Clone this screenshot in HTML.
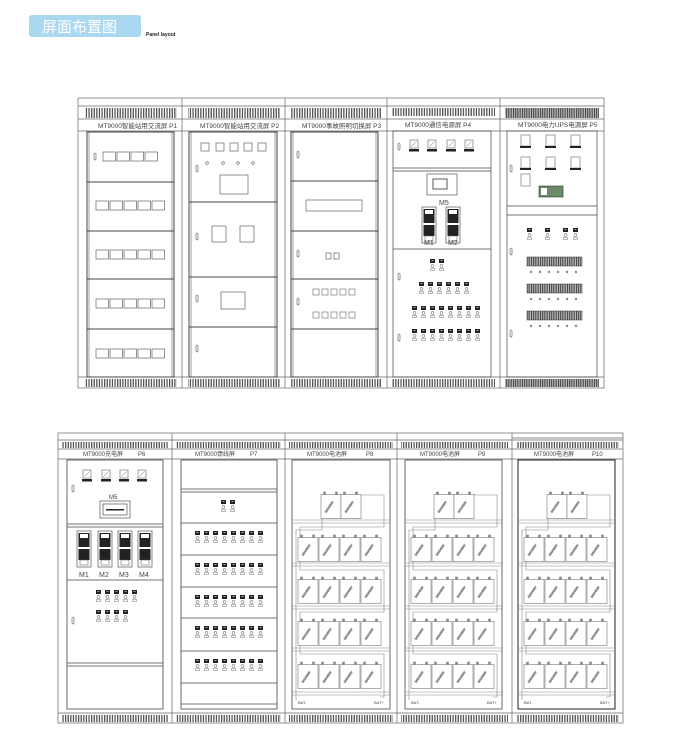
<!DOCTYPE html>
<html><head><meta charset="utf-8"><style>
html,body{margin:0;padding:0;background:#fff;width:687px;height:741px;overflow:hidden}
svg{display:block}
text{font-family:"Liberation Sans","Noto Sans CJK SC",sans-serif;fill:#444}
</style></head><body>
<svg width="687" height="741" viewBox="0 0 687 741" xmlns="http://www.w3.org/2000/svg">
<defs>
<pattern id="vent" width="2.6" height="20" patternUnits="userSpaceOnUse"><rect x="0" y="0" width="1.3" height="20" fill="#555"/></pattern>
<pattern id="ventd" width="1.8" height="20" patternUnits="userSpaceOnUse"><rect x="0" y="0" width="1.2" height="20" fill="#444"/></pattern>
<symbol id="brk" overflow="visible"><rect x="0" y="0" width="5" height="4" fill="#222"/><line x1="1.5" y1="1.5" x2="3.5" y2="1.5" stroke="#fff" stroke-width="0.6"/><circle cx="2.5" cy="7" r="1.4" fill="none" stroke="#777" stroke-width="0.6"/><rect x="0.5" y="9.5" width="4" height="2" fill="none" stroke="#777" stroke-width="0.5"/></symbol>
<symbol id="meter" overflow="visible"><rect x="0" y="0" width="8" height="8" fill="#fff" stroke="#666" stroke-width="0.6"/><line x1="1.5" y1="6.5" x2="6.5" y2="1.5" stroke="#666" stroke-width="0.5"/><rect x="-1" y="9" width="10" height="2.5" fill="#222"/></symbol>
<symbol id="box" overflow="visible"><rect x="0" y="0" width="12.5" height="9" fill="#fff" stroke="#666" stroke-width="0.7"/></symbol>
<symbol id="hdl" overflow="visible"><rect x="0" y="0" width="2" height="7" rx="1" fill="#fff" stroke="#555" stroke-width="0.6"/></symbol>
<symbol id="bat" overflow="visible"><rect x="0" y="2.5" width="20" height="24" fill="#fff" stroke="#777" stroke-width="0.6"/><rect x="2.5" y="0" width="2" height="2.5" fill="#888"/><rect x="14.5" y="0" width="2" height="2.5" fill="#888"/><text x="5" y="21" font-size="2.6" transform="rotate(-55 5 21)" style="fill:#aaa">100AH/12V</text></symbol>
<symbol id="mod" overflow="visible"><rect x="0" y="0" width="14" height="36" fill="#fff" stroke="#555" stroke-width="0.7"/><rect x="1.5" y="2" width="11" height="14" fill="#222"/><rect x="3" y="3" width="8" height="4" fill="#fff"/><rect x="1.5" y="18" width="11" height="11" fill="#222"/><rect x="3" y="29" width="8" height="5" fill="#fff" stroke="#555" stroke-width="0.5"/></symbol>
<g id="batp" stroke="#888" stroke-width="0.6" fill="none">
<line x1="292" y1="520" x2="390" y2="520"/><line x1="292" y1="523" x2="390" y2="523"/>
<line x1="292" y1="563" x2="390" y2="563"/><line x1="292" y1="566" x2="390" y2="566"/>
<line x1="292" y1="606" x2="390" y2="606"/><line x1="292" y1="609" x2="390" y2="609"/>
<line x1="292" y1="648" x2="390" y2="648"/><line x1="292" y1="651" x2="390" y2="651"/>
<line x1="292" y1="692" x2="390" y2="692"/><line x1="292" y1="695" x2="390" y2="695"/>
<polyline points="360,495 384,495 384,527 300,527 300,570 384,570 384,612 300,612 300,654 384,654 384,697 380,697"/>
<polyline points="324,495 322,495 322,530 296,530 296,700"/>
<use href="#bat" x="321" y="492"/><use href="#bat" x="341" y="492"/>
<use href="#bat" x="298" y="535"/><use href="#bat" x="319" y="535"/><use href="#bat" x="340" y="535"/><use href="#bat" x="361" y="535"/>
<use href="#bat" x="298" y="577"/><use href="#bat" x="319" y="577"/><use href="#bat" x="340" y="577"/><use href="#bat" x="361" y="577"/>
<use href="#bat" x="298" y="619"/><use href="#bat" x="319" y="619"/><use href="#bat" x="340" y="619"/><use href="#bat" x="361" y="619"/>
<use href="#bat" x="298" y="662"/><use href="#bat" x="319" y="662"/><use href="#bat" x="340" y="662"/><use href="#bat" x="361" y="662"/>
<text x="298" y="704" font-size="4" stroke="none">BAT-</text><text x="374" y="704" font-size="4" stroke="none">BAT+</text>
</g>
</defs>

<rect x="29" y="15" width="112" height="22" rx="3" fill="#a9d8f0"/>
<text x="42" y="32" font-size="15" style="fill:#fff">屏面布置图</text>
<text x="146" y="36" font-size="5" font-weight="bold" style="fill:#222">Panel layout</text>

<g stroke="#666" stroke-width="0.7" fill="none">
<rect x="78" y="98" width="526" height="290"/>
<line x1="78" y1="106" x2="604" y2="106"/>
<line x1="78" y1="119" x2="604" y2="119"/><line x1="78" y1="131" x2="604" y2="131"/>
<line x1="78" y1="377" x2="604" y2="377"/>
<line x1="182" y1="98" x2="182" y2="388"/><line x1="285" y1="98" x2="285" y2="388"/><line x1="387" y1="98" x2="387" y2="388"/><line x1="500" y1="98" x2="500" y2="388"/>
</g>
<g stroke="none">
<rect x="85" y="108" width="92" height="10" fill="url(#vent)"/>
<rect x="188" y="108" width="92" height="10" fill="url(#vent)"/>
<rect x="290" y="108" width="92" height="10" fill="url(#vent)"/>
<rect x="392" y="108" width="103" height="8" fill="url(#vent)"/>
<rect x="505" y="108" width="94" height="10" fill="url(#ventd)"/>
<rect x="85" y="379" width="92" height="8" fill="url(#vent)"/>
<rect x="188" y="379" width="92" height="8" fill="url(#vent)"/>
<rect x="290" y="379" width="92" height="8" fill="url(#vent)"/>
<rect x="392" y="379" width="103" height="8" fill="url(#vent)"/>
<rect x="505" y="379" width="94" height="8" fill="url(#ventd)"/>
</g>
<g font-size="6.5">
<text x="98" y="128">MT9000智能站用交流屏  P1</text>
<text x="200" y="128">MT9000智能站用交流屏  P2</text>
<text x="302" y="128">MT9000事故照明切换屏  P3</text>
<text x="405" y="127">MT9000通信电源屏  P4</text>
<text x="518" y="127">MT9000电力UPS电源屏  P5</text>
</g>
<g stroke="#444" stroke-width="1" fill="none">
<rect x="87" y="132" width="87" height="245"/><line x1="89" y1="132" x2="89" y2="377" stroke-width="0.5"/><line x1="172" y1="132" x2="172" y2="377" stroke-width="0.5"/>
<line x1="87" y1="182" x2="174" y2="182"/><line x1="87" y1="231" x2="174" y2="231"/><line x1="87" y1="279" x2="174" y2="279"/><line x1="87" y1="329" x2="174" y2="329"/>
<rect x="189" y="132" width="88" height="245"/><line x1="191" y1="132" x2="191" y2="377" stroke-width="0.5"/><line x1="275" y1="132" x2="275" y2="377" stroke-width="0.5"/>
<line x1="189" y1="202" x2="277" y2="202"/><line x1="189" y1="277" x2="277" y2="277"/><line x1="189" y1="327" x2="277" y2="327"/>
<rect x="291" y="132" width="87" height="245"/><line x1="293" y1="132" x2="293" y2="377" stroke-width="0.5"/><line x1="376" y1="132" x2="376" y2="377" stroke-width="0.5"/>
<line x1="291" y1="181" x2="378" y2="181"/><line x1="291" y1="231" x2="378" y2="231"/><line x1="291" y1="279" x2="378" y2="279"/><line x1="291" y1="329" x2="378" y2="329"/>
<rect x="393" y="131" width="98" height="246" stroke-width="0.7"/>
<line x1="393" y1="168" x2="491" y2="168" stroke-width="0.7"/><line x1="393" y1="171" x2="491" y2="171" stroke-width="0.7"/><line x1="393" y1="249" x2="491" y2="249" stroke-width="0.7"/>
<rect x="507" y="131" width="90" height="246" stroke-width="0.7"/>
<line x1="507" y1="206" x2="597" y2="206" stroke-width="0.7"/><line x1="507" y1="215" x2="597" y2="215" stroke-width="0.7"/>
</g>
<use href="#hdl" x="94" y="153"/>
<use href="#box" x="103" y="152"/><use href="#box" x="117" y="152"/><use href="#box" x="131" y="152"/><use href="#box" x="145" y="152"/>
<g id="r5"><use href="#box" x="96" y="201"/><use href="#box" x="110" y="201"/><use href="#box" x="124" y="201"/><use href="#box" x="138" y="201"/><use href="#box" x="152" y="201"/></g>
<use href="#r5" y="49"/><use href="#r5" y="98"/><use href="#r5" y="148"/>
<g fill="#fff" stroke="#666" stroke-width="0.7">
<rect x="201" y="143" width="8" height="8"/><rect x="216" y="143" width="8" height="8"/><rect x="230" y="143" width="8" height="8"/><rect x="244" y="143" width="8" height="8"/><rect x="258" y="143" width="8" height="8"/>
<circle cx="207" cy="163" r="1.3"/><circle cx="223" cy="163" r="1.3"/><circle cx="238" cy="163" r="1.3"/><circle cx="253" cy="163" r="1.3"/>
<rect x="220" y="175" width="28" height="19"/>
<rect x="212" y="226" width="14" height="16"/><rect x="240" y="226" width="14" height="16"/>
<rect x="221" y="292" width="24" height="17"/>
<rect x="306" y="200" width="56" height="11"/>
<rect x="326" y="253" width="5" height="6"/><rect x="334" y="253" width="5" height="6"/>
</g>
<use href="#hdl" x="196" y="165"/><use href="#hdl" x="196" y="233"/><use href="#hdl" x="196" y="295"/><use href="#hdl" x="196" y="345"/>
<use href="#hdl" x="297" y="151"/><use href="#hdl" x="297" y="250"/><use href="#hdl" x="297" y="298"/>
<g fill="#fff" stroke="#666" stroke-width="0.6">
<rect x="313" y="289" width="6" height="6"/><rect x="322" y="289" width="6" height="6"/><rect x="331" y="289" width="6" height="6"/><rect x="340" y="289" width="6" height="6"/><rect x="349" y="289" width="6" height="6"/>
<rect x="313" y="312" width="6" height="6"/><rect x="322" y="312" width="6" height="6"/><rect x="331" y="312" width="6" height="6"/><rect x="340" y="312" width="6" height="6"/><rect x="349" y="312" width="6" height="6"/>
</g>
<use href="#hdl" x="398" y="143"/><use href="#hdl" x="398" y="273"/><use href="#hdl" x="398" y="334"/>
<use href="#meter" x="410" y="140"/><use href="#meter" x="428" y="140"/><use href="#meter" x="447" y="140"/><use href="#meter" x="465" y="140"/>
<rect x="427" y="174" width="30" height="21" fill="#fff" stroke="#555" stroke-width="0.7"/><rect x="433" y="179" width="14" height="10" fill="#fff" stroke="#333" stroke-width="0.8"/>
<text x="439" y="205" font-size="7">M5</text>
<use href="#mod" x="422" y="207"/><use href="#mod" x="446" y="207"/>
<text x="424" y="245" font-size="7">M1</text><text x="448" y="245" font-size="7">M2</text>
<use href="#brk" x="430" y="259"/><use href="#brk" x="439" y="259"/>
<g id="b6"><use href="#brk" x="419" y="282"/><use href="#brk" x="428" y="282"/><use href="#brk" x="437" y="282"/><use href="#brk" x="446" y="282"/><use href="#brk" x="455" y="282"/><use href="#brk" x="464" y="282"/></g>
<g id="b8"><use href="#brk" x="412" y="306"/><use href="#brk" x="421" y="306"/><use href="#brk" x="430" y="306"/><use href="#brk" x="439" y="306"/><use href="#brk" x="448" y="306"/><use href="#brk" x="457" y="306"/><use href="#brk" x="466" y="306"/><use href="#brk" x="475" y="306"/></g>
<use href="#b8" y="23"/>
<use href="#hdl" x="510" y="165"/><use href="#hdl" x="510" y="248"/><use href="#hdl" x="510" y="330"/>
<g fill="#fff" stroke="#666" stroke-width="0.6">
<rect x="521" y="135" width="9" height="11"/><rect x="546" y="135" width="9" height="11"/><rect x="571" y="135" width="9" height="11"/>
<rect x="521" y="157" width="9" height="11"/><rect x="546" y="157" width="9" height="11"/><rect x="571" y="157" width="9" height="11"/>
<rect x="521" y="174" width="9" height="12"/>
</g>
<g fill="#222"><rect x="520" y="146" width="11" height="2"/><rect x="545" y="146" width="11" height="2"/><rect x="570" y="146" width="11" height="2"/><rect x="520" y="168" width="11" height="2"/><rect x="545" y="168" width="11" height="2"/><rect x="570" y="168" width="11" height="2"/></g>
<rect x="539" y="186" width="24" height="11" fill="#6a8a6a" stroke="#333" stroke-width="0.6"/><rect x="541" y="188" width="6" height="7" fill="#fff"/>
<use href="#brk" x="527" y="228"/><use href="#brk" x="545" y="228"/><use href="#brk" x="563" y="228"/><use href="#brk" x="573" y="228"/>
<g fill="url(#ventd)" stroke="#333" stroke-width="0.5">
<rect x="527" y="257" width="55" height="9"/><rect x="527" y="284" width="55" height="9"/><rect x="527" y="311" width="55" height="9"/>
</g>
<g fill="#888"><circle cx="531" cy="272" r="1.2"/><circle cx="540" cy="272" r="1.2"/><circle cx="549" cy="272" r="1.2"/><circle cx="558" cy="272" r="1.2"/><circle cx="567" cy="272" r="1.2"/><circle cx="576" cy="272" r="1.2"/>
<circle cx="531" cy="299" r="1.2"/><circle cx="540" cy="299" r="1.2"/><circle cx="549" cy="299" r="1.2"/><circle cx="558" cy="299" r="1.2"/><circle cx="567" cy="299" r="1.2"/><circle cx="576" cy="299" r="1.2"/>
<circle cx="531" cy="326" r="1.2"/><circle cx="540" cy="326" r="1.2"/><circle cx="549" cy="326" r="1.2"/><circle cx="558" cy="326" r="1.2"/><circle cx="567" cy="326" r="1.2"/><circle cx="576" cy="326" r="1.2"/></g>

<g stroke="#666" stroke-width="0.7" fill="none">
<rect x="58" y="433" width="565" height="290"/>
<line x1="58" y1="440" x2="623" y2="440"/>
<line x1="58" y1="449" x2="623" y2="449"/><line x1="58" y1="459" x2="623" y2="459"/>
<line x1="58" y1="713" x2="623" y2="713"/>
<line x1="172" y1="433" x2="172" y2="723"/><line x1="285" y1="433" x2="285" y2="723"/><line x1="397" y1="433" x2="397" y2="723"/><line x1="512" y1="433" x2="512" y2="723"/>
<line x1="512" y1="438" x2="623" y2="438"/>
</g>
<g stroke="none">
<rect x="62" y="442" width="106" height="6" fill="url(#vent)"/>
<rect x="176" y="442" width="105" height="6" fill="url(#vent)"/>
<rect x="289" y="442" width="104" height="6" fill="url(#vent)"/>
<rect x="401" y="442" width="107" height="6" fill="url(#vent)"/>
<rect x="516" y="442" width="103" height="6" fill="url(#vent)"/>
<rect x="62" y="715" width="106" height="7" fill="url(#vent)"/>
<rect x="176" y="715" width="105" height="7" fill="url(#vent)"/>
<rect x="289" y="715" width="104" height="7" fill="url(#vent)"/>
<rect x="401" y="715" width="107" height="7" fill="url(#vent)"/>
<rect x="516" y="715" width="103" height="7" fill="url(#vent)"/>
</g>
<g font-size="6">
<text x="83" y="456">MT9000充电屏</text><text x="138" y="456">P6</text>
<text x="195" y="456">MT9000馈线屏</text><text x="250" y="456">P7</text>
<text x="307" y="456">MT9000电池屏</text><text x="366" y="456">P8</text>
<text x="420" y="456">MT9000电池屏</text><text x="478" y="456">P9</text>
<text x="534" y="456">MT9000电池屏</text><text x="592" y="456">P10</text>
</g>
<g stroke="#444" stroke-width="0.8" fill="none">
<rect x="67" y="460" width="96" height="249"/>
<line x1="67" y1="524" x2="163" y2="524"/><line x1="67" y1="527" x2="163" y2="527"/><line x1="67" y1="580" x2="163" y2="580"/><line x1="67" y1="663" x2="163" y2="663"/><line x1="67" y1="666" x2="163" y2="666"/>
<rect x="181" y="460" width="96" height="249"/>
<line x1="181" y1="489" x2="277" y2="489"/><line x1="181" y1="492" x2="277" y2="492"/><line x1="181" y1="523" x2="277" y2="523"/><line x1="181" y1="555" x2="277" y2="555"/><line x1="181" y1="587" x2="277" y2="587"/><line x1="181" y1="618" x2="277" y2="618"/><line x1="181" y1="651" x2="277" y2="651"/><line x1="181" y1="683" x2="277" y2="683"/><line x1="181" y1="704" x2="277" y2="704"/>
<rect x="292" y="460" width="98" height="249"/>
<rect x="405" y="460" width="97" height="249"/>
<rect x="518" y="460" width="97" height="249" stroke="#222" stroke-width="1"/>
</g>
<use href="#hdl" x="72" y="485"/><use href="#hdl" x="72" y="617"/>
<use href="#meter" x="83" y="470"/><use href="#meter" x="102" y="470"/><use href="#meter" x="120" y="470"/><use href="#meter" x="138" y="470"/>
<text x="109" y="499" font-size="6">M5</text>
<rect x="100" y="501" width="30" height="17" fill="#fff" stroke="#555" stroke-width="0.7"/><rect x="103" y="504" width="24" height="11" fill="#fff" stroke="#333" stroke-width="0.6"/><rect x="106" y="509" width="18" height="1.5" fill="#222"/>
<use href="#mod" x="77" y="531"/><use href="#mod" x="98" y="531"/><use href="#mod" x="118" y="531"/><use href="#mod" x="138" y="531"/>
<g font-size="7"><text x="79" y="577">M1</text><text x="99" y="577">M2</text><text x="119" y="577">M3</text><text x="139" y="577">M4</text></g>
<use href="#brk" x="96" y="590"/><use href="#brk" x="105" y="590"/><use href="#brk" x="114" y="590"/><use href="#brk" x="123" y="590"/><use href="#brk" x="132" y="590"/>
<use href="#brk" x="96" y="610"/><use href="#brk" x="105" y="610"/><use href="#brk" x="114" y="610"/><use href="#brk" x="123" y="610"/>
<use href="#brk" x="221" y="500"/><use href="#brk" x="230" y="500"/>
<g id="p7r"><use href="#brk" x="195" y="531"/><use href="#brk" x="204" y="531"/><use href="#brk" x="213" y="531"/><use href="#brk" x="222" y="531"/><use href="#brk" x="231" y="531"/><use href="#brk" x="240" y="531"/><use href="#brk" x="249" y="531"/><use href="#brk" x="258" y="531"/></g>
<use href="#p7r" y="32"/><use href="#p7r" y="64"/><use href="#p7r" y="95"/><use href="#p7r" y="128"/>
<use href="#batp"/>
<use href="#batp" x="113"/>
<use href="#batp" x="226"/>
</svg>
</body></html>
